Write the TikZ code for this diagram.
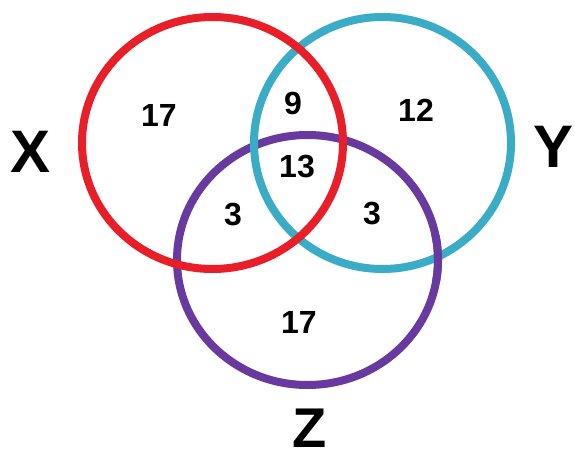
\documentclass[tikz,border=0pt]{standalone}
\usepackage{fontspec}
\setmainfont{Liberation Sans}
\definecolor{vred}{RGB}{232,30,40}
\definecolor{vcyan}{RGB}{58,172,198}
\definecolor{vpurple}{RGB}{104,58,160}
\begin{document}
\begin{tikzpicture}[x=1pt,y=-1pt,
  ring/.style={line width=8pt},
  num/.style={font=\fontsize{32}{32}\selectfont\bfseries, inner sep=0pt},
  setlabel/.style={font=\fontsize{60}{60}\selectfont\bfseries, inner sep=0pt}]
\useasboundingbox[fill=white] (0,0) rectangle (575,452);
\draw[ring,vpurple] (307.5,260) ellipse [x radius=130.5pt, y radius=125pt];
\draw[ring,vcyan] (382.5,143) ellipse [x radius=128.5pt, y radius=126pt];
\draw[ring,vred] (212.5,143) ellipse [x radius=130.5pt, y radius=126pt];
\begin{scope}
  \clip (425,235) rectangle (455,280);
  \draw[ring,vpurple] (307.5,260) ellipse [x radius=130.5pt, y radius=125pt];
\end{scope}
\node[num] (xonly) at (159,115) {17};
\node[num] (xy) at (293,103) {9};
\node[num] (yonly) at (416,110) {12};
\node[num] (xyz) at (297,167) {13};
\node[num] (xz) at (233,215) {3};
\node[num] (yz) at (372,214) {3};
\node[num] (zonly) at (299,322) {17};
\node[setlabel] (lx) at (31,152) {X};
\node[setlabel] (ly) at (554,147) {Y};
\node[setlabel,font=\fontsize{56}{56}\selectfont\bfseries] (lz) at (310,428) {Z};
\end{tikzpicture}
\end{document}
